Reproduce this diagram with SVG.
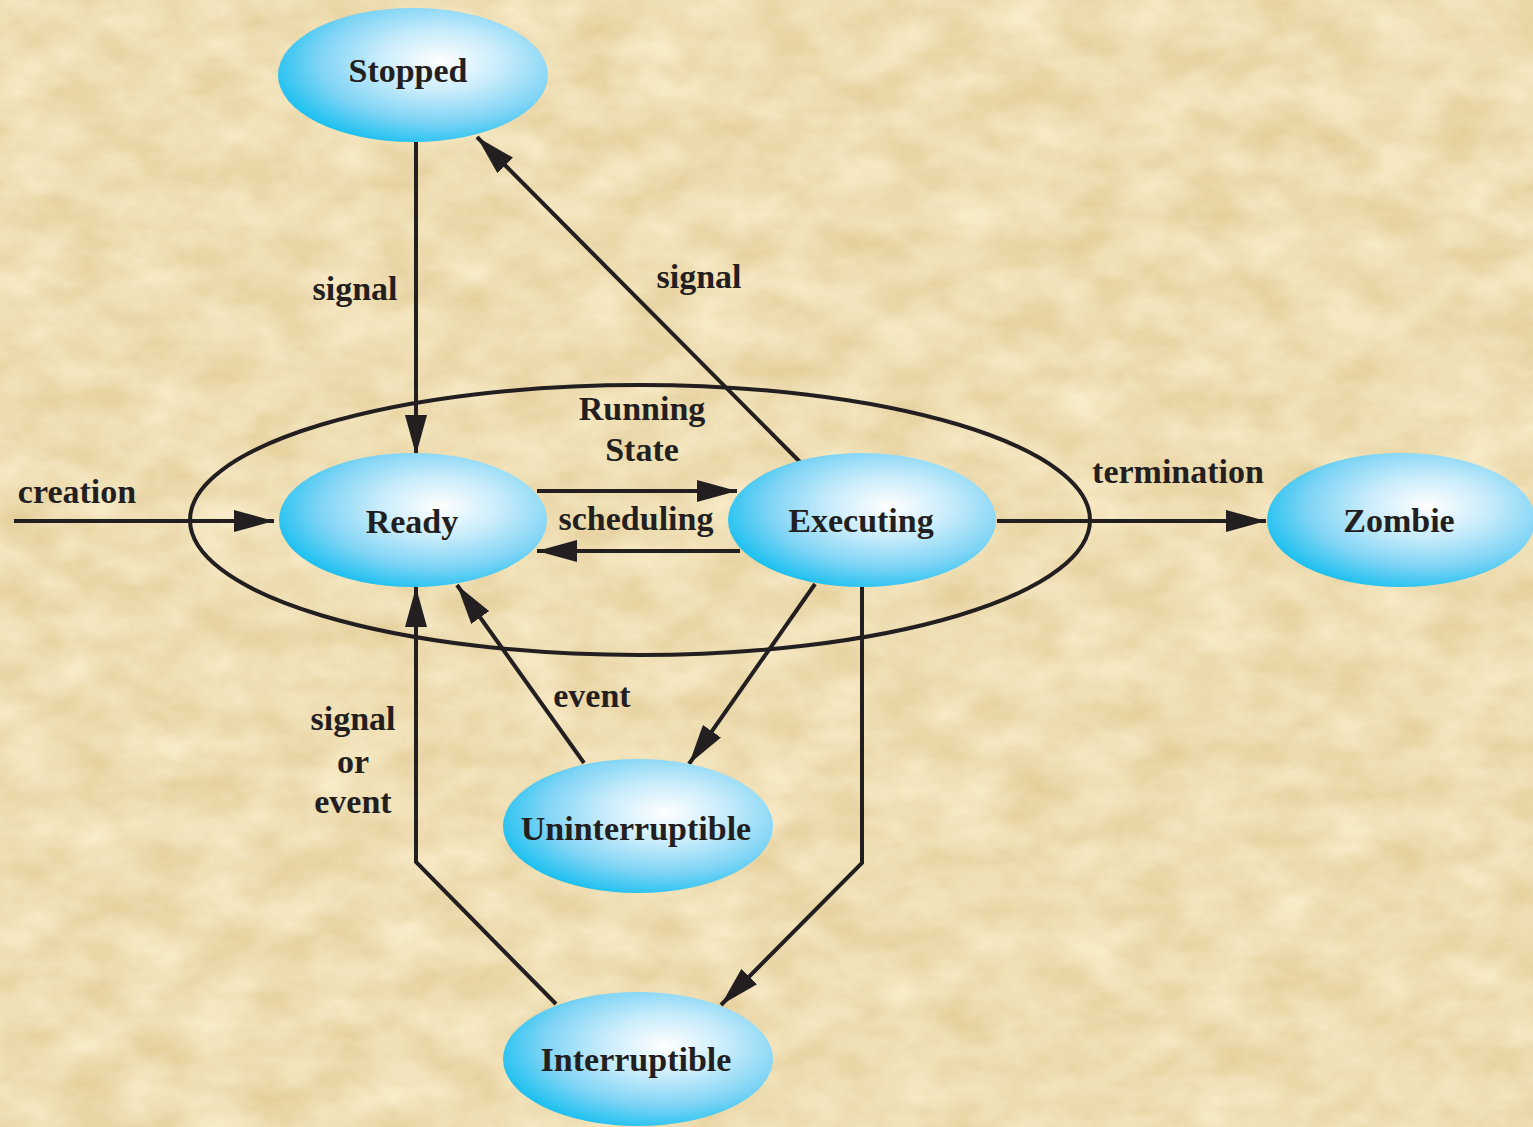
<svg xmlns="http://www.w3.org/2000/svg" width="1533" height="1127" viewBox="0 0 1533 1127">
  <style>
    .node { fill: url(#nodeFill); }
    .label { font-family: "Liberation Serif", "Times New Roman", serif; font-weight: bold; font-size: 34px; fill: #231F20; text-anchor: middle; }
    .edge { fill: none; stroke: #231F20; stroke-width: 4; stroke-linejoin: miter; }
    .arrow { marker-end: url(#arrowHead); }
  </style>
  <defs>
    <radialGradient id="nodeFill" cx="0.6" cy="0.4" r="0.64" fx="0.6" fy="0.4">
      <stop offset="0" stop-color="#FFFFFF"/>
      <stop offset="0.35" stop-color="#C9ECFB"/>
      <stop offset="0.7" stop-color="#7FD4F5"/>
      <stop offset="1" stop-color="#1CC0F0"/>
    </radialGradient>
    <filter id="parchment" x="0" y="0" width="100%" height="100%" color-interpolation-filters="sRGB">
      <feTurbulence type="fractalNoise" baseFrequency="0.016 0.026" numOctaves="5" seed="7" result="noise"/>
      <feColorMatrix in="noise" type="matrix"
        values="0.10 0 0 0 0.885
                0.15 0 0 0 0.795
                0.24 0 0 0 0.58
                0 0 0 0 1"/>
    </filter>
    <marker id="arrowHead" markerUnits="userSpaceOnUse" viewBox="0 0 40 22" markerWidth="40" markerHeight="22" refX="40" refY="11" orient="auto">
      <path d="M0,0 L40,11 L0,22 Z" fill="#231F20"/>
    </marker>
  </defs>

  <!-- textured parchment background -->
  <rect x="0" y="0" width="1533" height="1127" fill="#EEDCB0"/>
  <rect x="0" y="0" width="1533" height="1127" filter="url(#parchment)"/>

  <!-- running-state boundary -->
  <g id="running-state">
    <ellipse cx="640" cy="520" rx="450" ry="135" fill="none" stroke="#231F20" stroke-width="4"/>
    <text class="label" x="642" y="420">Running</text>
    <text class="label" x="642" y="461">State</text>
  </g>

  <!-- transitions -->
  <g id="connectors">
    <path class="edge arrow" d="M416,142 L416,455"/>
    <path class="edge arrow" d="M800,462 L477,137"/>
    <path class="edge arrow" d="M14,521 L274,521"/>
    <path class="edge arrow" d="M537,491 L737,491"/>
    <path class="edge arrow" d="M740,551 L537,551"/>
    <path class="edge arrow" d="M997,521 L1266,521"/>
    <path class="edge arrow" d="M815,584 L689,764"/>
    <path class="edge arrow" d="M584,763 L457,585"/>
    <path class="edge arrow" d="M862,587 L862,863 L721,1005"/>
    <path class="edge arrow" d="M556,1004 L416,862 L416,587"/>

    <text class="label" x="355" y="300">signal</text>
    <text class="label" x="699" y="288">signal</text>
    <text class="label" x="77" y="503">creation</text>
    <text class="label" x="636" y="530">scheduling</text>
    <text class="label" x="1178" y="483">termination</text>
    <text class="label" x="592" y="707">event</text>
    <text class="label" x="353" y="730">signal</text>
    <text class="label" x="353" y="773">or</text>
    <text class="label" x="353" y="813">event</text>
  </g>

  <!-- states -->
  <g id="stopped">
    <ellipse class="node" cx="413" cy="75" rx="135" ry="67"/>
    <text class="label" x="408" y="82">Stopped</text>
  </g>
  <g id="ready">
    <ellipse class="node" cx="413" cy="520" rx="134" ry="67"/>
    <text class="label" x="412" y="533">Ready</text>
  </g>
  <g id="executing">
    <ellipse class="node" cx="862" cy="520" rx="134" ry="67"/>
    <text class="label" x="861" y="532">Executing</text>
  </g>
  <g id="zombie">
    <ellipse class="node" cx="1401" cy="520" rx="134" ry="67"/>
    <text class="label" x="1399" y="532">Zombie</text>
  </g>
  <g id="uninterruptible">
    <ellipse class="node" cx="638" cy="826" rx="135" ry="67"/>
    <text class="label" x="636" y="840">Uninterruptible</text>
  </g>
  <g id="interruptible">
    <ellipse class="node" cx="638" cy="1059" rx="135" ry="67"/>
    <text class="label" x="636" y="1071">Interruptible</text>
  </g>
</svg>
